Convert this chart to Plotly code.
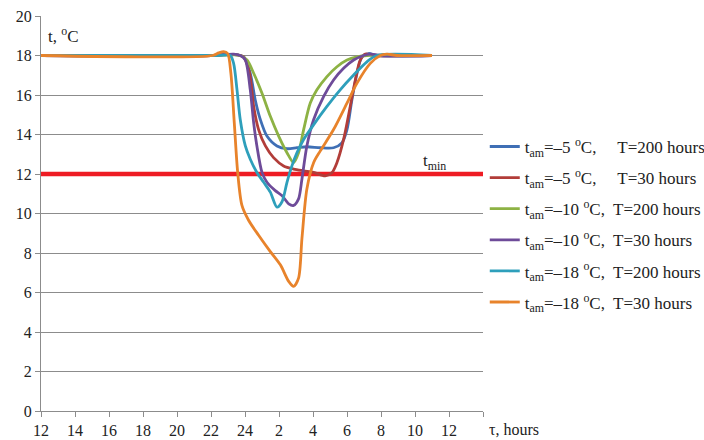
import plotly.graph_objects as go

# ---- data (hours from 12:00 of day 1; 24+ means next day) ----
blue_x = [12, 22, 23.33, 23.92, 24.31, 24.6, 24.9, 25.29, 25.88, 26.47, 27.06, 27.64, 28.43, 29.21, 29.7, 30.0, 30.29, 30.59, 30.88, 31.27, 31.76, 35]
blue_y = [18, 18, 18.05, 17.93, 17.1, 15.76, 14.76, 13.92, 13.42, 13.28, 13.33, 13.38, 13.33, 13.33, 13.58, 14.25, 15.76, 17.1, 17.93, 18.1, 18.0, 18]

red_x = [12, 22, 23.33, 23.92, 24.27, 24.51, 24.8, 25.2, 25.68, 26.27, 26.86, 27.45, 28.04, 28.72, 29.12, 29.41, 29.8, 30.19, 30.49, 30.78, 31.08, 31.57, 35]
red_y = [18, 18, 18.05, 17.93, 17.1, 15.42, 14.25, 13.42, 12.83, 12.41, 12.25, 12.16, 12.08, 11.91, 12.08, 12.58, 13.75, 15.42, 16.76, 17.77, 18.07, 18.0, 18]

green_x = [12, 22, 23.33, 23.72, 24.12, 24.51, 25.0, 25.49, 25.98, 26.47, 26.86, 27.15, 27.45, 27.84, 28.23, 28.82, 29.41, 30.0, 30.59, 31.18, 35]
green_y = [18, 18, 18.03, 18.0, 17.77, 17.1, 16.09, 14.92, 13.92, 13.08, 12.58, 13.08, 14.25, 15.59, 16.26, 16.93, 17.43, 17.77, 17.93, 18.0, 18]

purple_x = [12, 22, 23.33, 23.72, 24.02, 24.31, 24.51, 24.7, 25.0, 25.29, 25.78, 26.17, 26.57, 26.86, 27.15, 27.35, 27.64, 28.04, 28.63, 29.21, 29.8, 30.39, 30.98, 31.37, 31.96, 35]
purple_y = [18, 18, 18.07, 18.0, 17.77, 16.26, 14.59, 13.42, 12.08, 11.58, 11.16, 10.91, 10.49, 10.41, 10.74, 11.75, 13.42, 14.76, 15.93, 16.76, 17.35, 17.77, 18.0, 18.07, 18.0, 18]

cyan_x = [12, 22.3, 23.13, 23.33, 23.53, 23.72, 24.02, 24.31, 24.7, 25.1, 25.49, 25.88, 26.17, 26.47, 26.76, 27.06, 27.45, 28.04, 28.82, 29.6, 30.39, 31.17, 31.76, 35]
cyan_y = [18, 18, 18.0, 17.6, 16.26, 14.76, 13.42, 12.75, 12.08, 11.58, 11.08, 10.32, 10.58, 11.58, 12.41, 13.08, 13.75, 14.5, 15.42, 16.26, 17.01, 17.68, 18.0, 18]

orange_x = [12, 22.1, 22.45, 22.74, 22.98, 23.17, 23.37, 23.57, 23.82, 24.21, 24.8, 25.49, 26.08, 26.57, 26.86, 27.15, 27.35, 27.64, 28.04, 28.43, 29.21, 30.0, 30.59, 31.37, 31.96, 32.35, 32.94, 35]
orange_y = [18, 18, 18.13, 18.2, 18.1, 17.1, 14.59, 12.08, 10.41, 9.66, 8.9, 8.07, 7.4, 6.56, 6.31, 6.73, 8.74, 11.24, 12.58, 13.17, 14.25, 15.59, 16.6, 17.6, 18.0, 18.07, 18.0, 18]

tmin_x = [12, 38]
tmin_y = [12, 12]

series_names = [
    "t<sub>am</sub>=–5 <sup>o</sup>C,\u00a0\u00a0\u00a0\u00a0 T=200 hours",
    "t<sub>am</sub>=–5 <sup>o</sup>C,\u00a0\u00a0\u00a0\u00a0 T=30 hours",
    "t<sub>am</sub>=–10 <sup>o</sup>C,\u00a0 T=200 hours",
    "t<sub>am</sub>=–10 <sup>o</sup>C,\u00a0 T=30 hours",
    "t<sub>am</sub>=–18 <sup>o</sup>C,\u00a0 T=200 hours",
    "t<sub>am</sub>=–18 <sup>o</sup>C,\u00a0 T=30 hours",
]
series_colors = ["#3f6fb5", "#b23d39", "#8db244", "#6e4b99", "#2e9fbb", "#e8832b"]

tick_vals = [12, 14, 16, 18, 20, 22, 24, 26, 28, 30, 32, 34, 36, 38]
tick_text = ["12", "14", "16", "18", "20", "22", "24", "2", "4", "6", "8", "10", "12", ""]
y_ticks = [0, 2, 4, 6, 8, 10, 12, 14, 16, 18, 20]

FONT = "Times New Roman, Liberation Serif, DejaVu Serif, serif"

fig = go.Figure()

fig.add_trace(go.Scatter(x=tmin_x, y=tmin_y, mode="lines",
                         line=dict(color="#ee1c24", width=4.5),
                         showlegend=False, hoverinfo="skip", cliponaxis=False))

all_x = [blue_x, red_x, green_x, purple_x, cyan_x, orange_x]
all_y = [blue_y, red_y, green_y, purple_y, cyan_y, orange_y]
for i in range(6):
    fig.add_trace(go.Scatter(
        x=all_x[i], y=all_y[i], mode="lines", name=series_names[i],
        line=dict(color=series_colors[i], width=2.8, shape="spline", smoothing=0.8),
        legendgroup="g%d" % i,
    ))

fig.update_layout(
    width=704, height=440,
    margin=dict(l=41, r=221, t=16, b=29, autoexpand=False),
    paper_bgcolor="white", plot_bgcolor="white",
    font=dict(family=FONT, size=15, color="#222222"),
    showlegend=True,
    legend=dict(x=1.004, xanchor="left", y=0.714, yanchor="top",
                font=dict(family=FONT, size=17, color="#222222"),
                tracegroupgap=6, bgcolor="rgba(0,0,0,0)"),
    xaxis=dict(range=[12, 38], tickvals=tick_vals, ticktext=tick_text,
               showgrid=False, zeroline=False, showline=True, automargin=False,
               linecolor="#8c8c8c", linewidth=1.2,
               ticks="outside", ticklen=5, tickcolor="#8c8c8c",
               tickfont=dict(family=FONT, size=16, color="#222222")),
    yaxis=dict(range=[0, 20], tickvals=y_ticks, automargin=False,
               showgrid=True, gridcolor="#8c8c8c", gridwidth=1.2,
               zeroline=False, showline=True,
               linecolor="#8c8c8c", linewidth=1.2,
               ticks="outside", ticklen=5, tickcolor="#8c8c8c",
               tickfont=dict(family=FONT, size=16, color="#222222")),
    annotations=[
        dict(text="t, <sup>o</sup>C", xref="paper", yref="paper", x=0.011, y=0.952,
             xanchor="left", yanchor="middle", showarrow=False,
             font=dict(family=FONT, size=17, color="#222222")),
        dict(text="τ, hours", xref="paper", yref="paper", x=1.009, y=-0.048,
             xanchor="left", yanchor="middle", showarrow=False,
             font=dict(family=FONT, size=16, color="#222222")),
        dict(text="t<sub>min</sub>", xref="paper", yref="paper", x=0.891, y=0.63,
             xanchor="center", yanchor="middle", showarrow=False,
             font=dict(family=FONT, size=17, color="#222222")),
    ],
)

fig.write_html("out.html", config={"displayModeBar": False},
               post_script="document.body.style.margin='0';")
